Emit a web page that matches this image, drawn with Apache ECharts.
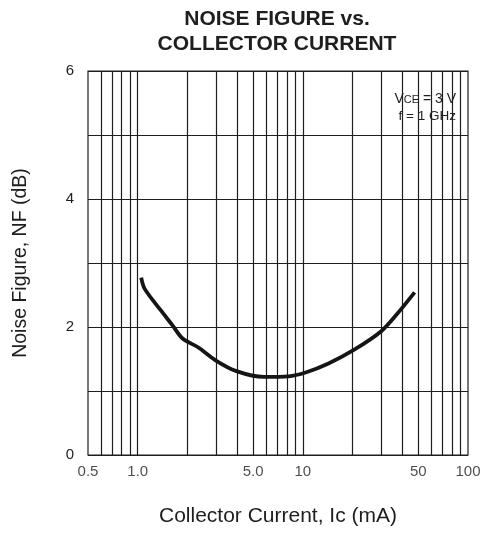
<!DOCTYPE html>
<html>
<head>
<meta charset="utf-8">
<script src="https://cdn.jsdelivr.net/npm/echarts@6/dist/echarts.min.js"></script>
<style>
  html, body { margin: 0; padding: 0; background: #fff; }
  #chart { width: 480px; height: 534px; }
</style>
</head>
<body>
<div id="chart"></div>
<script>
// NF vs Ic 曲线（对数 x 轴）
const currentMA = [1.05, 1.10, 1.37, 1.62, 1.87, 2.33, 2.96, 3.96, 5.82, 8.17, 10.4, 14.3, 20.6, 29.7, 37.4, 47.5]
const noiseDB   = [2.77, 2.60, 2.27, 2.03, 1.82, 1.68, 1.48, 1.31, 1.22, 1.23, 1.29, 1.43, 1.65, 1.93, 2.21, 2.54]

// 坐标轴刻度
const xTickValues = [0.5, 1, 5, 10, 50, 100]
const xTickLabels = ['0.5', '1.0', '5.0', '10', '50', '100']
const xGridLines = [0.6, 0.7, 0.8, 0.9, 1, 2, 3, 4, 5, 6, 7, 8, 9, 10, 20, 30, 40, 50, 60, 70, 80, 90]
const yTickLabels = ['0', '', '2', '', '4', '', '6']

const FONT = '"Liberation Sans", Arial, Helvetica, sans-serif'
const INK = '#1e1e1e'

const chart = echarts.init(document.getElementById('chart'), null, { renderer: 'canvas' })

chart.setOption({
  animation: false,
  backgroundColor: '#fff',
  textStyle: { fontFamily: FONT, color: INK },
  title: {
    text: 'NOISE FIGURE vs.\nCOLLECTOR CURRENT',
    left: 272, top: 2, textAlign: 'center',
    textStyle: { fontFamily: FONT, fontSize: 21, fontWeight: 'bold', color: INK, lineHeight: 25 },
  },
  grid: {
    left: 88, right: 12, top: 71, bottom: 79,
    show: true, borderColor: INK, borderWidth: 1.2, backgroundColor: 'transparent',
  },
  xAxis: {
    type: 'log', logBase: 10, min: 0.5, max: 100,
    name: 'Collector Current, Ic (mA)',
    nameLocation: 'middle', nameGap: 51,
    nameTextStyle: { fontFamily: FONT, fontSize: 21, color: INK },
    axisLine: { show: false }, axisTick: { show: false },
    axisLabel: { show: false }, splitLine: { show: false },
  },
  yAxis: {
    type: 'value', min: 0, max: 6, interval: 1,
    name: 'Noise Figure, NF (dB)',
    nameLocation: 'middle', nameGap: 57,
    nameTextStyle: { fontFamily: FONT, fontSize: 19.5, color: INK },
    axisLine: { show: false }, axisTick: { show: false },
    axisLabel: {
      margin: 14, fontSize: 15, fontFamily: FONT, color: INK,
      formatter: v => yTickLabels[v] ?? '',
    },
    splitLine: { lineStyle: { color: INK, width: 1.2 } },
  },
  graphic: [{
    type: 'group', left: 384, top: 86, z: 100,
    children: [
      { type: 'rect', shape: { x: 0, y: 0, width: 78, height: 43 }, style: { fill: '#fff' } },
      {
        type: 'text', x: 72, y: 6,
        style: {
          text: '{a|V}{b|CE}{a| = 3 V}', align: 'right',
          rich: {
            a: { fontFamily: FONT, fontSize: 14, fill: INK },
            b: { fontFamily: FONT, fontSize: 11, fill: INK, verticalAlign: 'bottom', padding: [0, 0, 1, 0] },
          },
        },
      },
      {
        type: 'text', x: 72, y: 23,
        style: { text: 'f = 1 GHz', align: 'right', fontFamily: FONT, fontSize: 13.5, fill: INK },
      },
    ],
  }],
  series: [
    {
      // 竖向网格线 + x 轴刻度文字
      type: 'scatter', z: 1, silent: true,
      symbolSize: 0,
      data: xTickValues.map((v, i) => ({ value: [v, 0], name: xTickLabels[i] })),
      label: {
        show: true, position: 'bottom', distance: 9,
        fontSize: 15, fontFamily: FONT, color: INK,
        formatter: p => p.name,
      },
      markLine: {
        silent: true, symbol: 'none', animation: false,
        label: { show: false },
        lineStyle: { color: INK, width: 1.2, type: 'solid' },
        data: xGridLines.map(v => ({ xAxis: v })),
      },
    },
    {
      type: 'line', z: 5,
      data: currentMA.map((x, i) => [x, noiseDB[i]]),
      showSymbol: false, smooth: 0.3,
      lineStyle: { color: '#151515', width: 3.8 },
    },
  ],
})
</script>
</body>
</html>
